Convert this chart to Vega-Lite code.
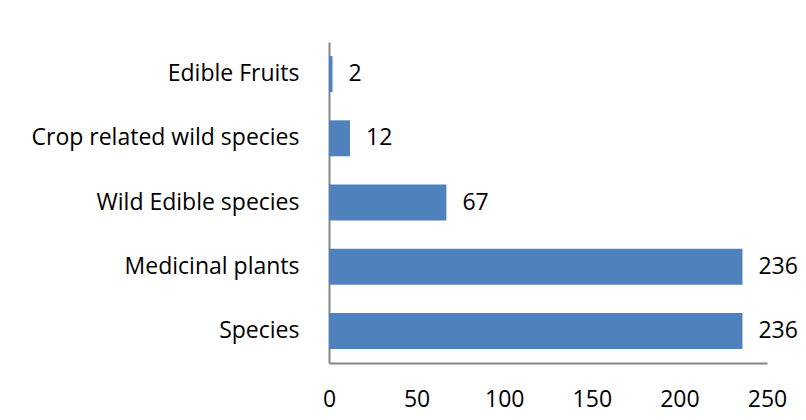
{
  "$schema": "https://vega.github.io/schema/vega-lite/v6.json",
  "width": 438,
  "height": 321,
  "autosize": {"type": "none"},
  "padding": {"left": 329, "top": 42, "right": 39, "bottom": 57},
  "background": "white",
  "data": {"values": [
    {"category": "Edible Fruits", "value": 2},
    {"category": "Crop related wild species", "value": 12},
    {"category": "Wild Edible species", "value": 67},
    {"category": "Medicinal plants", "value": 236},
    {"category": "Species", "value": 236}
  ]},
  "encoding": {
    "y": {"field": "category", "type": "nominal", "sort": null,
      "scale": {"paddingInner": 0.44, "paddingOuter": 0.22},
      "axis": {"title": null, "ticks": false, "domainColor": "#868686", "domainWidth": 2, "labelFont": "Open Sans", "labelFontSize": 23, "labelColor": "#000000", "labelPadding": 30, "labelLimit": 330}},
    "x": {"field": "value", "type": "quantitative",
      "scale": {"domain": [0, 250]},
      "axis": {"title": null, "values": [0, 50, 100, 150, 200, 250], "grid": false, "ticks": false, "domainColor": "#868686", "domainWidth": 2, "labelFont": "Open Sans", "labelFontSize": 23, "labelColor": "#000000", "labelPadding": 25, "labelFlush": false}}
  },
  "layer": [
    {"mark": {"type": "bar", "color": "#4F81BD"}},
    {"mark": {"type": "text", "align": "left", "dx": 16, "font": "Open Sans", "fontSize": 23, "color": "#000000"},
     "encoding": {"text": {"field": "value", "type": "quantitative"}}}
  ],
  "config": {"view": {"stroke": null}}
}
